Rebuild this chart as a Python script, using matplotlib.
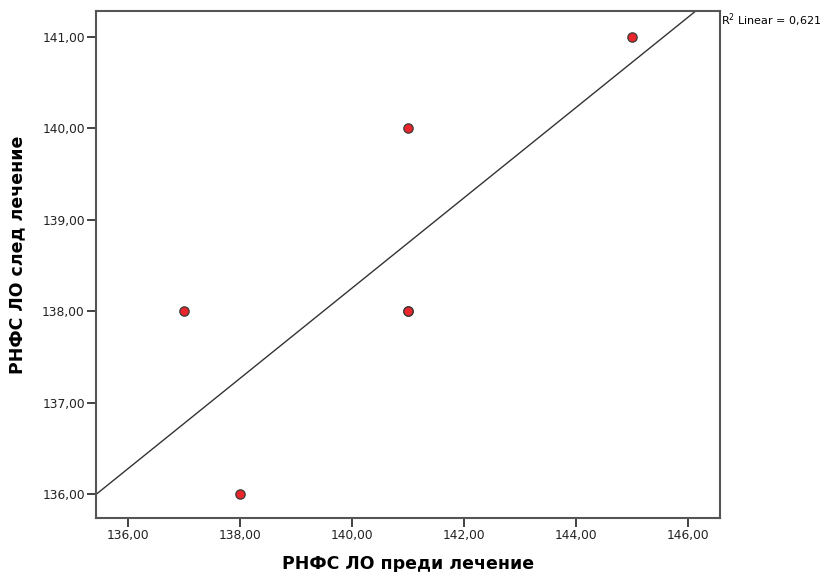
import matplotlib
matplotlib.use("Agg")
import matplotlib.pyplot as plt
import numpy as np

plt.rcParams['font.family'] = ['DejaVu Sans']

# data (the point at 141/138 is there twice)
before = [137, 138, 141, 141, 141, 145]
after = [138, 136, 140, 138, 138, 141]
xticks = [136, 138, 140, 142, 144, 146]
yticks = [136, 137, 138, 139, 140, 141]

x = np.array(before, dtype=float)
y = np.array(after, dtype=float)
slope, intercept = np.polyfit(x, y, 1)
r2 = np.corrcoef(x, y)[0, 1] ** 2

fig = plt.figure(figsize=(8.36, 5.72), dpi=100)
ax = fig.add_axes([0.1148, 0.0944, 0.861 - 0.1148, 0.9808 - 0.0944])

xlim = (135.43, 146.56)
ylim = (135.74, 141.28)
xx = np.array(xlim)
ax.plot(xx, slope * xx + intercept, color='#333333', lw=1.0, zorder=2)
ax.scatter(x, y, s=45, color='#e8262b', edgecolors='#3a3a3a', linewidths=0.9, zorder=3)

ax.set_xlim(*xlim)
ax.set_ylim(*ylim)
ax.set_xticks(xticks)
ax.set_yticks(yticks)
ax.set_xticklabels([f"{t:.2f}".replace('.', ',') for t in xticks])
ax.set_yticklabels([f"{t:.2f}".replace('.', ',') for t in yticks])
ax.tick_params(labelsize=8.8, colors='#222222', length=6.5, width=1.2, direction='out', pad=1.5)
for s in ax.spines.values():
    s.set_color('#555555')
    s.set_linewidth(1.5)

ax.set_xlabel('РНФС ЛО преди лечение', fontsize=12.5, fontweight='bold')
ax.set_ylabel('РНФС ЛО след лечение', fontsize=12.5, fontweight='bold')
ax.xaxis.set_label_coords(0.5, -0.072)
ax.yaxis.set_label_coords(-0.111, 0.52)

fig.text(0.862, 0.965, f"R$^2$ Linear = {r2:.3f}".replace('.', ','), fontsize=8,
         ha='left', va='center')

fig.savefig('out.png', dpi=100)
